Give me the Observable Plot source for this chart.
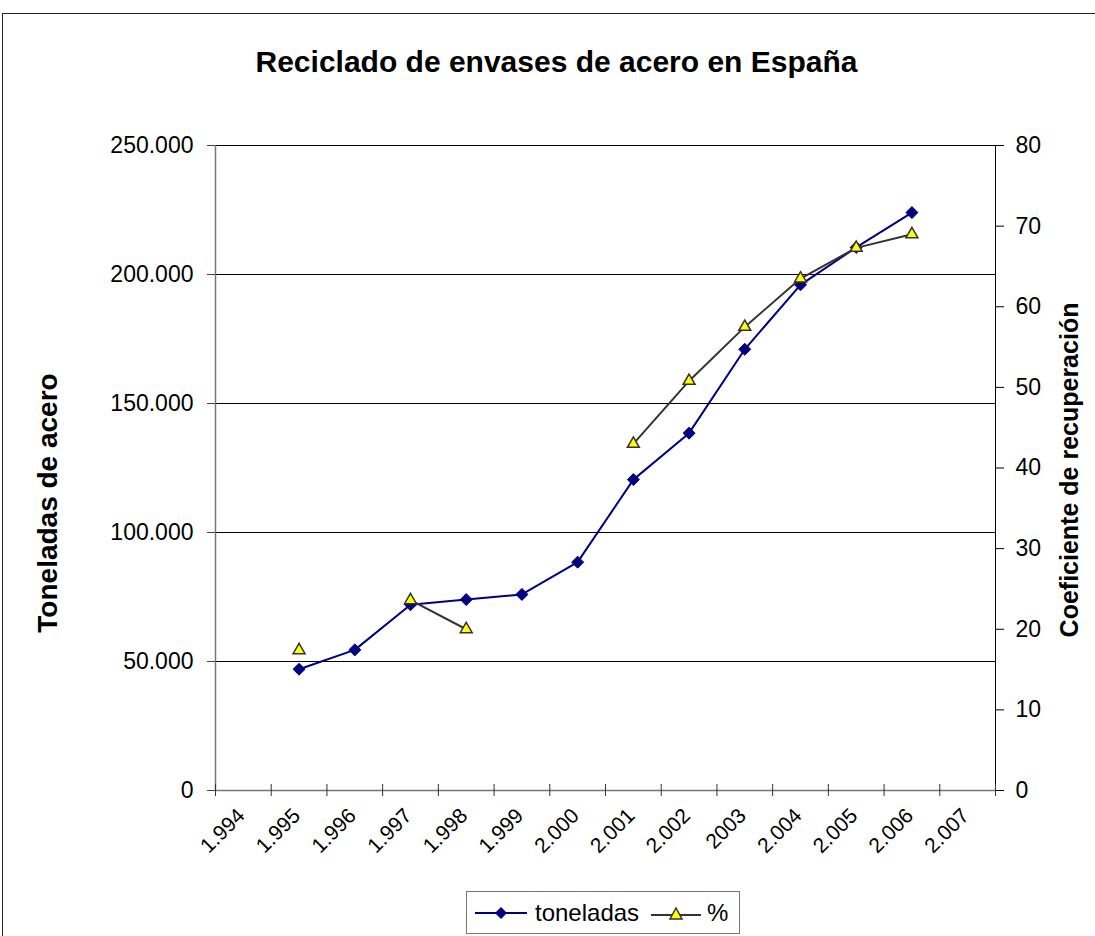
<!DOCTYPE html>
<html><head><meta charset="utf-8">
<script src="https://cdn.jsdelivr.net/npm/d3@7"></script>
<script src="https://cdn.jsdelivr.net/npm/@observablehq/plot@0.6"></script>
<style>
body{margin:0;background:#fff;font-family:"Liberation Sans",Arial,sans-serif;}
#wrap{position:relative;width:1095px;height:936px;overflow:hidden;background:#fff;}
#frame{position:absolute;left:2px;top:13px;width:1200px;height:1000px;border:1.5px solid #222;box-sizing:border-box;}
#title{position:absolute;left:0;width:1113px;top:44px;text-align:center;font-weight:bold;font-size:30px;line-height:36px;color:#000;}
#chart{position:absolute;left:0;top:100px;}
#legend{position:absolute;left:466px;top:891px;width:274px;height:43px;border:1px solid #777;box-sizing:border-box;background:#fff;font-size:24px;}
#legend .item{position:absolute;top:0;height:41px;display:flex;align-items:center;}
</style></head>
<body>
<div id="wrap">
  <div id="frame"></div>
  <div id="title">Reciclado de envases de acero en España</div>
  <div id="chart"></div>
  <div id="legend">
    <div class="item" style="left:8px"><svg width="54" height="20" style="margin-right:6px"><line x1="0" y1="10" x2="52" y2="10" stroke="#000080" stroke-width="2"/><path d="M26,4L32,10L26,16L20,10Z" fill="#000080"/></svg><span>toneladas</span></div>
    <div class="item" style="left:184px"><svg width="52" height="20" style="margin-right:4px"><line x1="0" y1="12" x2="50" y2="12" stroke="#333" stroke-width="2"/><path d="M25,5L31,16L19,16Z" fill="#ffff00" stroke="#333" stroke-width="1.5"/></svg><span>%</span></div>
  </div>
</div>
<script>
// Data
const years = [1995, 1996, 1997, 1998, 1999, 2000, 2001, 2002, 2003, 2004, 2005, 2006];
const toneladas = [47000, 54500, 72000, 74000, 76000, 88500, 120500, 138500, 171000, 196000, 210500, 224000];
const porcentaje = [17.4, null, 23.6, 20.0, null, null, 43.0, 50.8, 57.5, 63.5, 67.3, 69.0];
const xLabels = ["1.994", "1.995", "1.996", "1.997", "1.998", "1.999", "2.000", "2.001", "2.002", "2003", "2.004", "2.005", "2.006", "2.007"];
const leftTicks = [0, 50000, 100000, 150000, 200000, 250000];
const rightTicks = [0, 10, 20, 30, 40, 50, 60, 70, 80];
const leftTitle = "Toneladas de acero";
const rightTitle = "Coeficiente de recuperación";

const K = 250000 / 80;
const firstYear = 1994;
const data = years.map((y, i) => ({year: y, t: toneladas[i], p: porcentaje[i]}));
const fmt = d => d3.format(",")(d).replace(/,/g, ".");
const xPos = d => d.year + 0.5;

const chart = Plot.plot({
  width: 1095, height: 780,
  marginTop: 45, marginBottom: 90, marginLeft: 215, marginRight: 100,
  style: {fontFamily: "Liberation Sans, Arial, sans-serif", fontSize: "23px", color: "#000", background: "transparent", overflow: "visible"},
  x: {type: "linear", domain: [firstYear, firstYear + xLabels.length], axis: null},
  y: {domain: [0, 250000], axis: null},
  marks: [
    Plot.ruleY(leftTicks.slice(1), {stroke: "#000", strokeWidth: 1}),
    Plot.ruleX([firstYear], {stroke: "#777", strokeWidth: 1.5}),
    Plot.ruleX([firstYear + xLabels.length], {stroke: "#000", strokeWidth: 1}),
    Plot.ruleY([0], {stroke: "#777", strokeWidth: 1.5}),
    Plot.ruleX(d3.range(firstYear, firstYear + xLabels.length + 1), {y1: 0, y2: 0, insetTop: -6, insetBottom: -6, stroke: "#333", strokeWidth: 1}),
    Plot.axisY(leftTicks, {anchor: "left", tickSize: 8, tickPadding: 14, tickFormat: fmt, label: null, fontSize: 23, stroke: "#444"}),
    Plot.axisY(rightTicks.map(v => v * K), {anchor: "right", tickSize: 8, tickPadding: 12, tickFormat: d => String(Math.round(d / K)), label: null, fontSize: 23}),
    Plot.text(xLabels, {x: (d, i) => firstYear + i + 0.5, y: 0, text: d => d, rotate: -45, textAnchor: "end", lineAnchor: "top", dx: -8, dy: 16, fontSize: 21}),
    Plot.line(data, {x: xPos, y: "t", stroke: "#000080", strokeWidth: 2}),
    Plot.dot(data, {x: xPos, y: "t", symbol: "diamond2", r: 5.4, fill: "#000080", stroke: "#000080", strokeWidth: 1}),
    Plot.line(data, {x: xPos, y: d => d.p == null ? NaN : d.p * K, stroke: "#333", strokeWidth: 2}),
    Plot.dot(data.filter(d => d.p != null), {x: xPos, y: d => d.p * K, symbol: "triangle2", r: 5.7, fill: "#ffff00", stroke: "#333", strokeWidth: 1.5}),
    Plot.text([leftTitle], {text: d => d, frameAnchor: "left", textAnchor: "middle", dx: -167, dy: 35, rotate: -90, fontWeight: "bold", fontSize: 28}),
    Plot.text([rightTitle], {text: d => d, frameAnchor: "right", textAnchor: "middle", dx: 74, dy: 2, rotate: -90, fontWeight: "bold", fontSize: 25})
  ]
});
document.getElementById("chart").appendChild(chart);
</script>
</body></html>
